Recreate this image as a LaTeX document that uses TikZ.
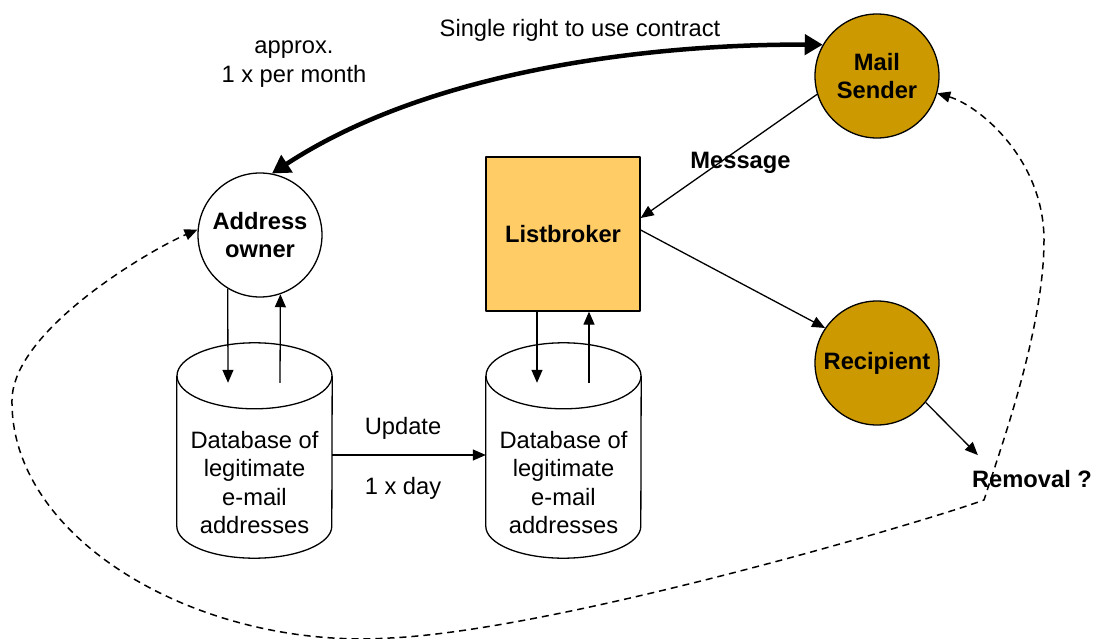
\documentclass[tikz,border=0pt]{standalone}
\usepackage{fontspec}
\setmainfont{Liberation Sans}
\usetikzlibrary{arrows.meta}
\definecolor{senderfill}{HTML}{CC9900}
\definecolor{brokerfill}{HTML}{FFCC66}
\begin{document}
\begin{tikzpicture}[x=1pt,y=1pt,line join=round,
  every node/.style={font=\fontsize{23.7}{28.3}\selectfont, inner sep=0pt},
  actor/.style={circle, draw, line width=1.3pt, minimum size=124pt, align=center,
                font=\fontsize{23.7}{28.3}\selectfont\bfseries},
  broker/.style={rectangle, draw, line width=1.3pt, fill=brokerfill,
                 minimum width=154pt, minimum height=154pt,
                 font=\fontsize{23.7}{28.3}\selectfont\bfseries},
  dbbody/.style={rectangle, minimum width=155pt, minimum height=215pt},
  dbline/.style={line width=1.3pt},
  dbtext/.style={align=center},
  lbl/.style={align=center},
  blbl/.style={align=center, font=\fontsize{23.7}{28.3}\selectfont\bfseries},
  conn/.style={line width=1.3pt, -{Triangle[length=13pt,width=11pt]}},
  feedback/.style={line width=1.5pt, dash pattern=on 7pt off 5pt,
                   {Triangle[length=13pt,width=11pt]}-{Triangle[length=13pt,width=11pt]}},
  contract/.style={line width=4.5pt,
                   {Triangle[length=18pt,width=20pt]}-{Triangle[length=18pt,width=20pt]}}
]
\useasboundingbox (0,0) rectangle (1093,-639);

% parties
\node[actor] (AO) at (260,-235) {Address\\owner};
\node[actor, fill=senderfill] (MS) at (877,-76) {Mail\\Sender};
\node[actor, fill=senderfill] (RC) at (877,-363) {Recipient};
\node[broker] (LB) at (563,-234) {Listbroker};

% database cylinders
\node[dbbody] (cyl1) at (254.5,-450.5) {};
\node[dbbody] (cyl2) at (563.5,-450.5) {};
\foreach \c in {cyl1,cyl2}{
  \draw[dbline] ([yshift=-33pt]\c.north) ellipse[x radius=77.5, y radius=33];
  \draw[dbline] ([yshift=-33pt]\c.north west) -- ([yshift=32pt]\c.south west)
    arc[start angle=180, end angle=360, x radius=77.5, y radius=32]
    -- ([yshift=-33pt]\c.north east);
}
\node[dbtext] (db1) at (254.5,-482.5) {Database of\\legitimate\\e-mail\\addresses};
\node[dbtext] (db2) at (563.5,-482.5) {Database of\\legitimate\\e-mail\\addresses};

% labels
\node[lbl] (contractlbl) at (580,-30) {Single right to use contract};
\node[lbl] (freq) at (294,-64) {approx.\\1 x per month};
\node[blbl] (msglbl) at (740.5,-163) {Message};
\node[lbl] (updlbl) at (403,-428) {Update};
\node[lbl] (daylbl) at (403,-488) {1 x day};
\node[blbl] (RM) at (1032,-479) {Removal ?};
\coordinate (RMin) at ([shift={(6pt,15pt)}]RM.north west);

% contract between address owner and mail sender
\draw[contract] (AO.79) .. controls (430,-70) and (650,-44) .. (MS.150);

% address owner <-> its database
\draw[conn] (AO.239) -- ([shift={(-26.5pt,-40pt)}]cyl1.north);
\draw[conn] ([shift={(25.5pt,-40pt)}]cyl1.north) -- (AO.-71);

% listbroker <-> its database
\draw[conn] ([xshift=-26pt]LB.south) -- ([shift={(-26.5pt,-40pt)}]cyl2.north);
\draw[conn] ([shift={(25.5pt,-40pt)}]cyl2.north) -- ([xshift=26pt]LB.south);

% daily update
\draw[conn] ([yshift=-4.5pt]cyl1.east) -- ([yshift=-4.5pt]cyl2.west);

% message flow
\draw[conn] (MS.197) -- ([yshift=16pt]LB.east);
\draw[conn] ([yshift=4pt]LB.east) -- (RC.146);
\draw[conn] (RC.-39) -- (RMin);

% removal feedback loop
\draw[feedback] (MS.-16) .. controls (980,-106) and (1044,-160) .. (1044,-240)
  .. controls (1044,-330) and (1000,-450) .. (984,-500)
  .. controls (930,-520) and (560,-630) .. (390,-638)
  .. controls (200,-650) and (10,-540) .. (12,-400)
  .. controls (13,-330) and (150,-250) .. (AO.175);
\end{tikzpicture}
\end{document}
